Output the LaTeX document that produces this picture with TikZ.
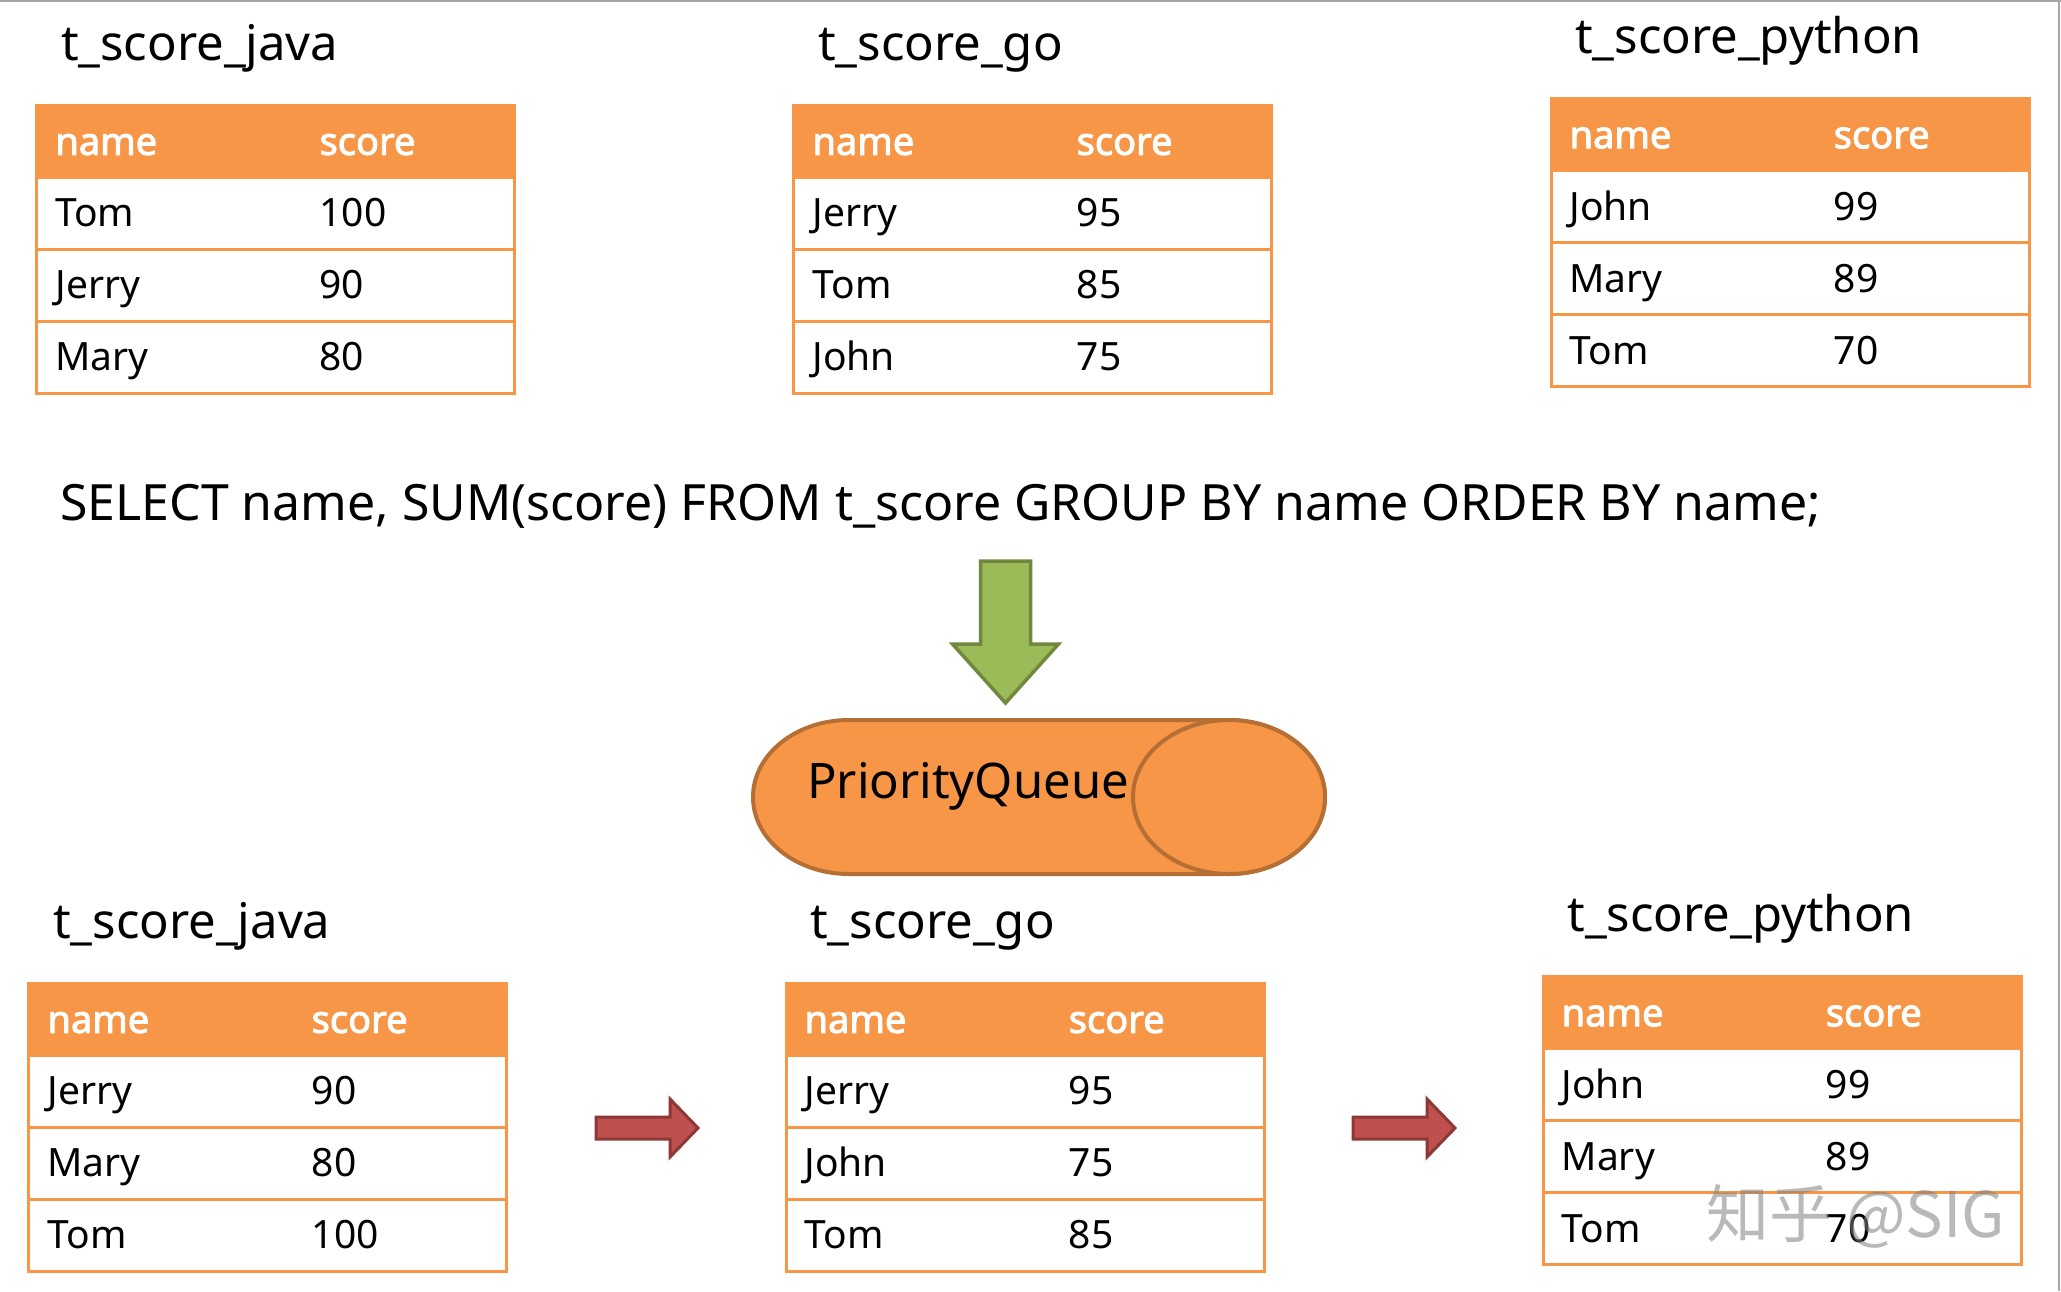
\documentclass[tikz,border=0pt]{standalone}
\usepackage{fontspec}
\setmainfont{Noto Sans}[AutoFakeBold=2.5]
\newfontfamily\cjk{Noto Sans CJK SC}
\definecolor{tblorange}{HTML}{F79646}
\definecolor{pqline}{HTML}{B56E34}
\definecolor{greenfill}{HTML}{9BBB59}
\definecolor{greenline}{HTML}{71893F}
\definecolor{redfill}{HTML}{C0504D}
\definecolor{redline}{HTML}{8C3836}
\tikzset{
  titletext/.style={anchor=base west, inner sep=0pt, font=\fontsize{49}{53}\selectfont},
  hdrtext/.style={anchor=base west, inner sep=0pt, text=white, font=\fontsize{38}{42}\selectfont\bfseries},
  celltext/.style={anchor=base west, inner sep=0pt, font=\fontsize{39}{42}\selectfont},
  tblline/.style={draw=tblorange, line width=3pt},
  greenarrow/.style={fill=greenfill, draw=greenline, line width=3.5pt, line join=miter},
  redarrow/.style={fill=redfill, draw=redline, line width=3pt, line join=miter},
  pqshape/.style={fill=tblorange, draw=pqline, line width=4pt},
}
\newcommand\scoretable[5]{%
  \begin{scope}[shift={(#2,#3)}]
    \node[titletext] (#1-title) at (24,-45) {#4};
    \fill[tblorange] (0,0) rectangle (478,72);
    \draw[tblline] (0,144) -- (478,144);
    \draw[tblline] (0,216) -- (478,216);
    \draw[tblline] (0,72) -- (478,72);
    \draw[tblline] (0,0) rectangle (478,288);
    \node[hdrtext] (#1-hname) at (18.4,49.6) {name};
    \node[hdrtext] (#1-hscore) at (282.6,49.6) {score};
    \foreach \nm/\sc [count=\i] in {#5} {
      \node[celltext] (#1-n\i) at (18.4,{72*\i+49.6}) {\nm};
      \node[celltext] (#1-s\i) at (282.6,{72*\i+49.6}) {\sc};
    }
  \end{scope}}
\begin{document}
\begin{tikzpicture}[x=1pt,y=-1pt]
\useasboundingbox (0,0) rectangle (2061,1291);
\fill[white] (0,0) rectangle (2061,1291);
\draw[gray!70, line width=2pt] (0,1) -- (2061,1);
\draw[gray!70, line width=2pt] (2059,0) -- (2059,1291);

\scoretable{tj}{36.8}{105.2}{t\_score\_java}{Tom/100,Jerry/90,Mary/80}
\scoretable{tg}{793.9}{105.2}{t\_score\_go}{Jerry/95,Tom/85,John/75}
\scoretable{tp}{1551}{98.6}{t\_score\_python}{John/99,Mary/89,Tom/70}

\node[anchor=base west, inner sep=0pt, font=\fontsize{50}{54}\selectfont] (sql) at (60,520)
  {SELECT name, SUM(score) FROM t\_score GROUP BY name ORDER BY name;};

% green arrow
\draw[greenarrow] (980.5,561) -- (1030.5,561) -- (1030.5,644) -- (1058.5,644)
  -- (1005.5,703) -- (952.5,644) -- (980.5,644) -- cycle;

% priority queue cylinder
\draw[pqshape] (849,720) -- (1229,720)
  arc[start angle=270, end angle=450, x radius=96, y radius=77]
  -- (849,874)
  arc[start angle=90, end angle=270, x radius=96, y radius=77] -- cycle;
\draw[pqshape] (1229,797) ellipse [x radius=96, y radius=77];
\node[anchor=base west, inner sep=0pt, font=\fontsize{49}{52}\selectfont] (pq) at (807,798) {PriorityQueue};

\scoretable{bj}{28.9}{983.2}{t\_score\_java}{Jerry/90,Mary/80,Tom/100}
\scoretable{bg}{786}{983.2}{t\_score\_go}{Jerry/95,John/75,Tom/85}
\scoretable{bp}{1543.1}{976.6}{t\_score\_python}{John/99,Mary/89,Tom/70}

% red arrows
\draw[redarrow] (596,1117) -- (670,1117) -- (670,1099) -- (698,1128)
  -- (670,1157) -- (670,1139) -- (596,1139) -- cycle;
\draw[redarrow] (1353,1117) -- (1427,1117) -- (1427,1099) -- (1455,1128)
  -- (1427,1157) -- (1427,1139) -- (1353,1139) -- cycle;

\node[anchor=west, inner sep=0pt, text=gray, opacity=0.55, font=\cjk\fontsize{63}{66}\selectfont] (wm) at (1706,1216) {知乎 @SIG};
\end{tikzpicture}
\end{document}
